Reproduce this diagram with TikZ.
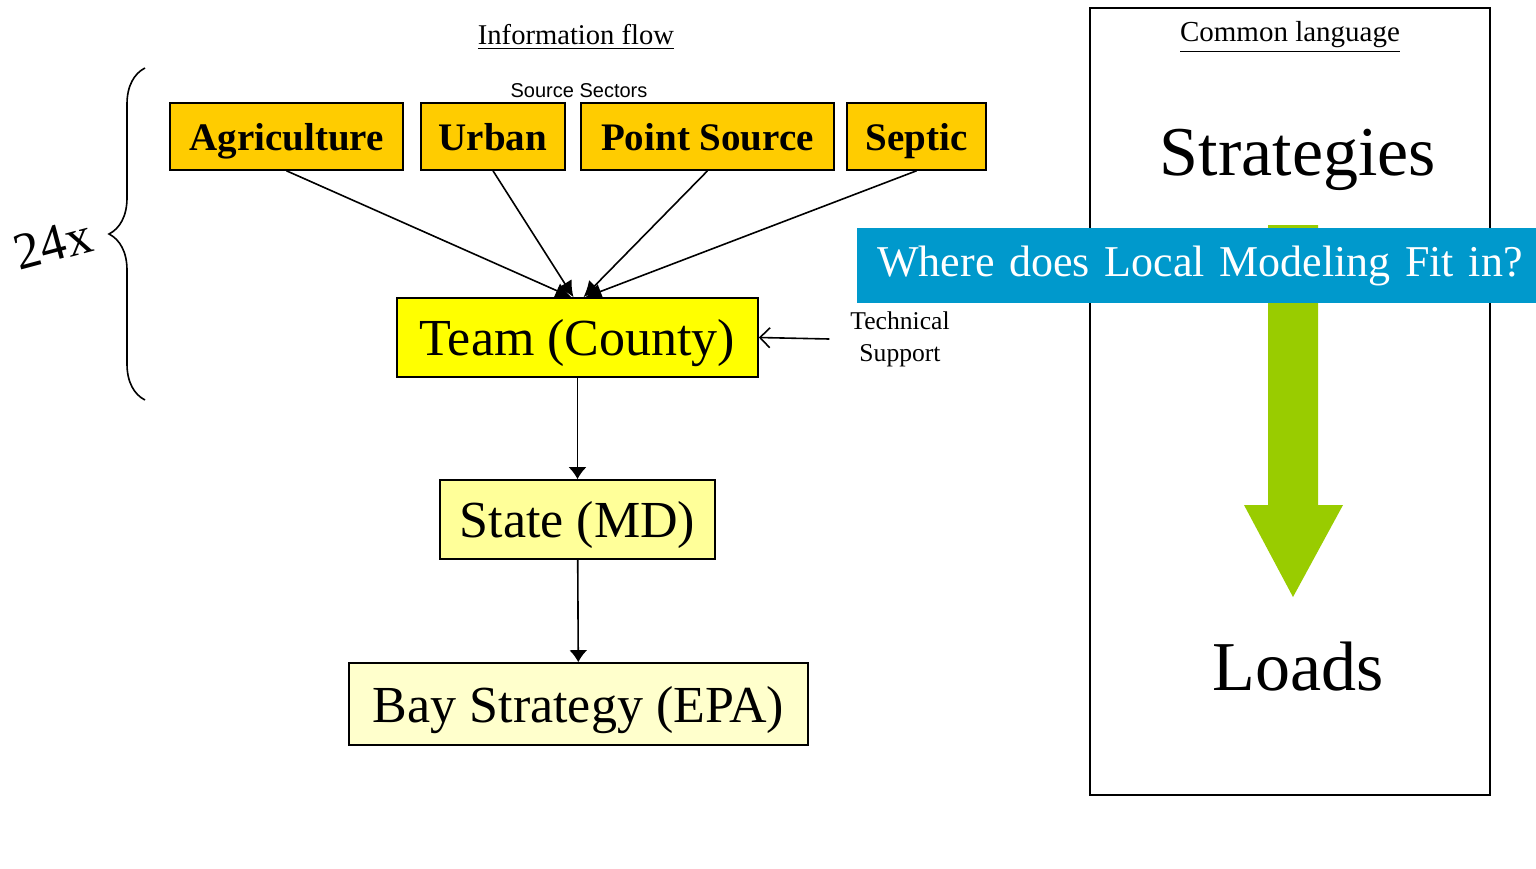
\documentclass[tikz,border=0pt]{standalone}
\usepackage{fontspec}
\setmainfont{Liberation Serif}
\newfontfamily\arialfont{Liberation Sans}
\usepackage{xcolor}
\usepackage{tikz}
\usetikzlibrary{arrows,arrows.meta,decorations.pathreplacing}
\definecolor{sectorcol}{RGB}{255,204,0}
\definecolor{teamcol}{RGB}{255,255,0}
\definecolor{statecol}{RGB}{255,255,153}
\definecolor{baycol}{RGB}{255,255,204}
\definecolor{bannercol}{RGB}{0,153,204}
\definecolor{arrowgreen}{RGB}{153,204,0}

\begin{document}
\begin{tikzpicture}[x=0.5pt,y=-0.5pt,
    sector/.style={draw, line width=0.8pt, fill=sectorcol, inner sep=0pt, text depth=0pt,
        minimum height=33.5pt, font=\fontsize{19.5}{20}\selectfont\bfseries},
    level/.style={draw, line width=0.8pt, inner sep=0pt, text depth=0pt,
        minimum height=39.5pt, font=\fontsize{26}{28}\selectfont},
    flow/.style={-{Latex[length=8pt,width=8pt]}, line width=0.8pt},
    down/.style={-{Latex[length=6pt,width=9pt]}, line width=0.8pt}]
        \useasboundingbox (0,0) rectangle (1536,868);
        % left side: information flow
        \node[font=\fontsize{14.3}{16}\selectfont] (info) at (576,37) {\underline{Information flow}};
        \node[font=\arialfont\fontsize{10}{12}\selectfont] (srcsec) at (579,91) {Source Sectors};
        \node[sector, minimum width=116.5pt] (agri) at (286.5,136.5) {Agriculture};
        \node[sector, minimum width=72pt] (urban) at (493,136.5) {Urban};
        \node[sector, minimum width=126.5pt] (point) at (707.5,136.5) {Point Source};
        \node[sector, minimum width=69.5pt] (septic) at (916.5,136.5) {Septic};
        \node[level, fill=teamcol, minimum width=180.5pt] (team) at (577.5,337.5) {Team (County)};
        \node[level, fill=statecol, minimum width=137.5pt] (state) at (577.5,519.5) {State (MD)};
        \node[level, fill=baycol, minimum width=229.5pt, minimum height=41pt] (bay) at (578.5,704) {Bay Strategy (EPA)};
        \node[font=\fontsize{12.8}{16}\selectfont, align=center] (tech) at (900,339) {Technical\\Support};
        \draw[flow] (agri.south) -- ([xshift=-3pt]team.north);
        \draw[flow] (urban.south) -- ([xshift=-2pt]team.north);
        \draw[flow] (point.south) -- ([xshift=3pt]team.north);
        \draw[flow] (septic.south) -- ([xshift=4pt]team.north);
        \draw[down] (team) -- (state);
        \draw[down] (state) -- (bay);
        \draw[-{Straight Barb[length=5pt,width=10pt]}, line width=0.8pt] ([xshift=-7pt]tech.west) -- (team.east);
        % brace for the 24 counties
        \draw[decorate, decoration={brace, amplitude=18pt}, line width=0.8pt] (145,400) -- (145,68);
        \node[font=\fontsize{26}{28}\selectfont, rotate=15] (times) at (53,244) {24x};
        % right side: common language
        \draw[line width=0.8pt] (1090,8) rectangle (1490,795);
        \node[font=\fontsize{14.5}{16}\selectfont] (common) at (1290,37) {\underline{Common language}};
        \node[font=\fontsize{35}{38}\selectfont] (strat) at (1298,160) {Strategies};
        \node[font=\fontsize{35}{38}\selectfont] (loads) at (1298,667) {Loads};
        \fill[arrowgreen] (1268,225) -- (1318,225) -- (1318,505) -- (1343,505)
            -- (1293,597) -- (1244,505) -- (1268,505) -- cycle;
        % banner on top
        \node[fill=bannercol, text=white, anchor=west, inner sep=0pt, minimum height=37.5pt,
            text width=339.5pt, align=left, font=\fontsize{22}{24}\selectfont] (banner) at (857,265.5)
            {\hspace{10pt}\raisebox{-2.5pt}{Where does Local Modeling Fit in?}};
\end{tikzpicture}
\end{document}
